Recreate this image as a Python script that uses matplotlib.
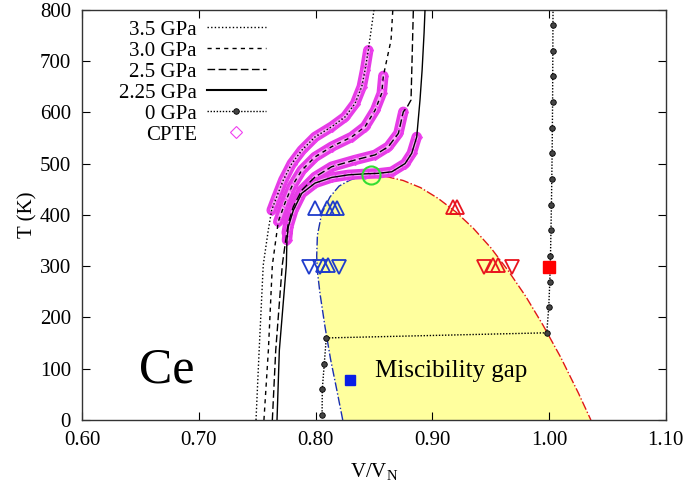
import matplotlib
matplotlib.use('Agg')
import matplotlib.pyplot as plt
from matplotlib.lines import Line2D
import numpy as np

plt.rcParams['font.family'] = ['Liberation Serif', 'DejaVu Serif']
plt.rcParams['mathtext.fontset'] = 'custom'
plt.rcParams['mathtext.rm'] = 'Liberation Serif'

iso35_v = [0.7489, 0.7516, 0.7551, 0.7594, 0.7623, 0.7666, 0.7723, 0.7795, 0.7881,
           0.7995, 0.8138, 0.8252, 0.8337, 0.8395, 0.8423, 0.8451, 0.8500]
iso35_t = [0, 136, 302, 370, 409, 435, 468, 500, 526, 552, 572, 591, 617, 650, 682, 721, 800]

iso30_v = [0.7557, 0.7595, 0.7629, 0.7680, 0.7737, 0.7795, 0.7881, 0.7995, 0.8138,
           0.8309, 0.8423, 0.8509, 0.8566, 0.8580, 0.8646, 0.8661]
iso30_t = [0, 136, 302, 387, 423, 455, 487, 513, 533, 552, 572, 604, 637, 671, 741, 800]

iso25_v = [0.7629, 0.7658, 0.7714, 0.7752, 0.7766, 0.7809, 0.7881, 0.7995, 0.8138,
           0.8337, 0.8509, 0.8623, 0.8709, 0.8751, 0.8783, 0.8817, 0.8826, 0.8837]
iso25_t = [0, 136, 302, 365, 384, 416, 448, 474, 494, 507, 517, 533, 559, 601, 610, 624, 702, 800]

iso225_v = [0.7669, 0.7689, 0.7749, 0.7754, 0.7766, 0.7809, 0.7881, 0.7995, 0.8138,
            0.8280, 0.8423, 0.8537, 0.8652, 0.8766, 0.8823, 0.8866, 0.8894, 0.8912, 0.8929, 0.8937]
iso225_t = [0, 136, 302, 351, 377, 409, 442, 462, 473, 478, 480, 481, 484, 500, 520, 552,
            624, 682, 755, 800]

# CPTE temperature range on each isobar
cpte_range = {'3.5': (409, 721), '3.0': (387, 671), '2.5': (365, 601), '2.25': (351, 552)}

# 0 GPa
p0_v = [1.0034, 1.0033, 1.0032, 1.0031, 1.0030, 1.0028, 1.0026, 1.0023, 1.0020, 1.0016,
        1.0012, 1.0006, 0.9997, 0.9980, 0.8091, 0.8074, 0.8057, 0.8055]
p0_t = [820, 770, 720, 670, 620, 570, 520, 470, 420, 370, 320, 270, 220, 170, 160, 110, 60, 10]

# miscibility gap boundaries
gapL_v = [0.8232, 0.8180, 0.8129, 0.8080, 0.8037, 0.8014, 0.8009, 0.8015, 0.8052, 0.8123,
          0.8200, 0.8295, 0.8380, 0.8475]
gapL_t = [0, 60, 117, 182, 247, 292, 320, 360, 403, 435, 456, 468, 474, 477]
gapR_v = [0.8475, 0.860, 0.875, 0.890, 0.905, 0.920, 0.935, 0.950, 0.965, 0.980, 0.995,
          1.010, 1.025, 1.0358]
gapR_t = [477, 475, 467, 453, 432, 406, 374, 336, 291, 241, 184, 122, 53, 0]

# experimental points
blue_up_v = [0.7995, 0.8100, 0.8151, 0.8180, 0.8060, 0.8109]
blue_up_t = [414, 414, 414, 414, 302, 302]
blue_dn_v = [0.7946, 0.8037, 0.8203]
blue_dn_t = [298, 298, 298]
red_up_v = [0.9180, 0.9210, 0.9518, 0.9560]
red_up_t = [415, 415, 302, 302]
red_dn_v = [0.9446, 0.9680]
red_dn_t = [298, 298]
crit_v, crit_t = 0.8475, 477
sq_red = (1.000, 299)
sq_blue = (0.8295, 78)

fig = plt.figure(figsize=(6.85, 4.87), dpi=100)
ax = fig.add_axes([0.120, 0.1376, 0.852, 0.8424])

# gap
ax.fill(np.concatenate([gapL_v, gapR_v]), np.concatenate([gapL_t, gapR_t]),
        color='#ffff9e', lw=0, zorder=1)
ax.plot(gapL_v, gapL_t, '-.', color='#1a2fb0', lw=1.0, zorder=2)
ax.plot(gapR_v, gapR_t, '-.', color='#e01818', lw=1.0, zorder=2)

isobars = [('3.5', iso35_v, iso35_t, (0, (1, 1.6))),
           ('3.0', iso30_v, iso30_t, (0, (3, 3))),
           ('2.5', iso25_v, iso25_t, (0, (5.5, 2.5))),
           ('2.25', iso225_v, iso225_t, '-')]

for name, v, t, ls in isobars:
    v = np.array(v)
    t = np.array(t)
    lo, hi = cpte_range[name]
    m = (t >= lo) & (t <= hi)
    ax.plot(v[m], t[m], color='#e63ce6', lw=7.5, solid_capstyle='round',
            solid_joinstyle='round', zorder=3)
    ax.plot(v[m], t[m], color='#f7a8f7', lw=2.5, solid_capstyle='round',
            solid_joinstyle='round', zorder=3)
    ax.plot(v[m], t[m], 'D', ms=5, mfc='none', mec='#f040f0', mew=0.8, zorder=3)
    ax.plot(v, t, color='black', ls=ls, lw=1.0, zorder=4)

ax.plot(p0_v, p0_t, ls=(0, (1, 1.2)), color='black', lw=1.0, marker='o', ms=4,
        mfc='#444444', mec='black', mew=0.6, zorder=5)

ax.plot(blue_up_v, blue_up_t, '^', ms=10, mfc='none', mec='#1f3ccc', mew=1.3, zorder=6)
ax.plot(blue_dn_v, blue_dn_t, 'v', ms=10, mfc='none', mec='#1f3ccc', mew=1.3, zorder=6)
ax.plot(red_up_v, red_up_t, '^', ms=10, mfc='none', mec='#e8141e', mew=1.3, zorder=6)
ax.plot(red_dn_v, red_dn_t, 'v', ms=10, mfc='none', mec='#e8141e', mew=1.3, zorder=6)
ax.plot(crit_v, crit_t, 'o', ms=13, mfc='none', mec='#33dd33', mew=1.5, zorder=6)
ax.plot(*sq_red, 's', ms=8, color='#ff0000', zorder=6)
ax.plot(*sq_blue, 's', ms=7, color='#0a1ee6', zorder=6)

ax.text(0.6726, 97, 'Ce', fontsize=36, ha='center', va='center')
ax.text(0.851, 84, 'Miscibility gap', fontsize=18, ha='left', va='baseline')

ax.set_xlim(0.6, 1.1)
ax.set_ylim(0, 800)
xt = [0.60, 0.70, 0.80, 0.90, 1.00, 1.10]
ax.set_xticks(xt)
ax.set_xticklabels(['%.2f' % x for x in xt])
ax.set_yticks(range(0, 801, 100))
ax.tick_params(direction='in', length=6, width=0.8, top=True, right=True,
               labelsize=15, pad=8)
for s in ax.spines.values():
    s.set_color('#333333')
    s.set_linewidth(1.0)
ax.set_xlabel('V/V$_{\\mathregular{N}}$', fontsize=15, labelpad=8)
ax.set_ylabel('T (K)', fontsize=15, labelpad=2)

handles = [Line2D([], [], color='black', lw=1.0, ls=(0, (1, 1.6))),
           Line2D([], [], color='black', lw=1.0, ls=(0, (3, 3))),
           Line2D([], [], color='black', lw=1.0, ls=(0, (5.5, 2.5))),
           Line2D([], [], color='black', lw=1.5, ls='-'),
           Line2D([], [], color='black', lw=1.0, ls=(0, (1, 1.2)), marker='o', ms=4,
                  mfc='#444444', mec='black', mew=0.6),
           Line2D([], [], ls='none', marker='D', ms=6, mfc='none', mec='#f040f0', mew=0.8)]
labels = ['3.5 GPa', '3.0 GPa', '2.5 GPa', '2.25 GPa', '0 GPa', 'CPTE']
ax.legend(handles, labels, loc='upper left', bbox_to_anchor=(0.063, 0.975),
          frameon=False, markerfirst=False, fontsize=15, handlelength=2.8,
          handletextpad=0.5, labelspacing=0.07, borderaxespad=0, borderpad=0,
          numpoints=1)

fig.savefig('out.png', dpi=100)
